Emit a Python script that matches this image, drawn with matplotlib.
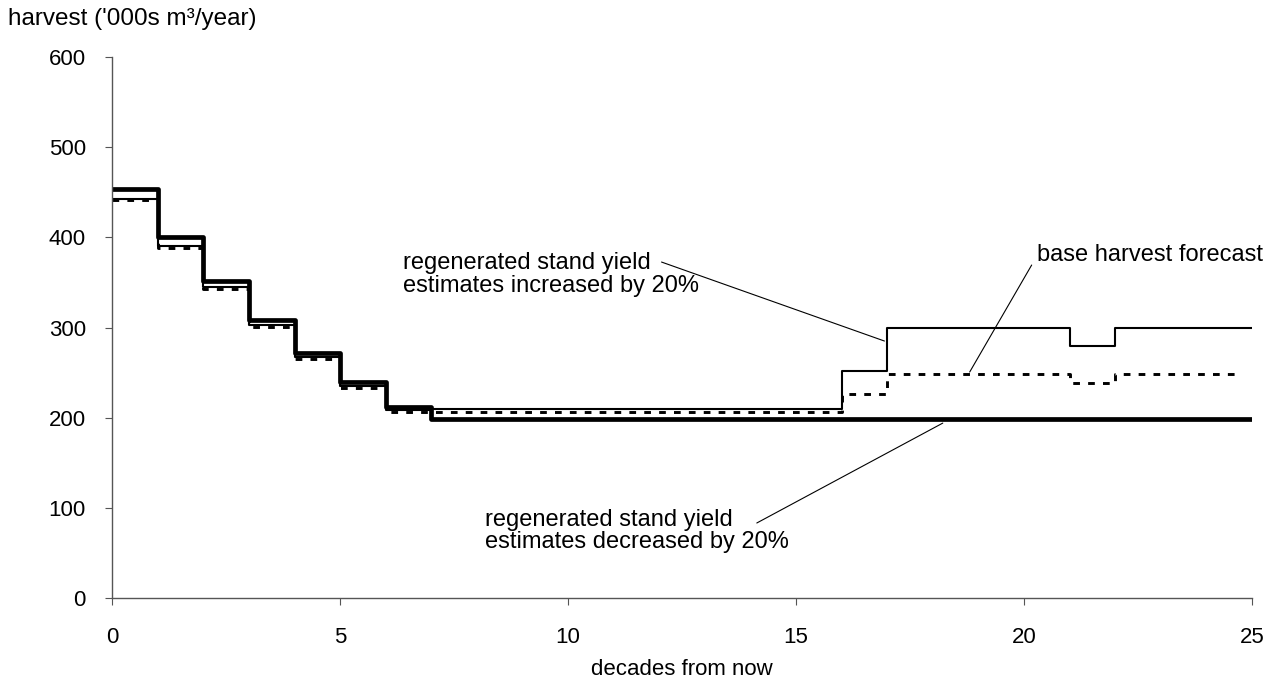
import matplotlib.pyplot as plt

plt.rcParams['font.family'] = ['Liberation Sans', 'DejaVu Sans']

# harvest per decade ('000s m3/year), decades 0..24
decades = list(range(26))
base = [441, 388, 343, 301, 265, 233, 206,
        206, 206, 206, 206, 206, 206, 206, 206, 206,
        226, 248, 248, 248, 248, 238, 248, 248, 248]
increased = [443, 390, 345, 303, 267, 235, 209,
             210, 210, 210, 210, 210, 210, 210, 210, 210,
             252, 300, 300, 300, 300, 279, 300, 300, 300]
decreased = [454, 400, 352, 308, 272, 240, 212,
             198, 198, 198, 198, 198, 198, 198, 198, 198,
             198, 198, 198, 198, 198, 198, 198, 198, 198]


def close(vals):
    # repeat last value so the final step reaches the right edge
    return vals + [vals[-1]]


fig = plt.figure(figsize=(12.8, 6.9), dpi=100)
ax = fig.add_axes([0.0877, 0.1333, 0.8903, 0.7841])

ax.step(decades[:-1] + [24.7], close(base)[:-1] + [base[-1]], where='post',
        color='black', lw=2.1, linestyle=(0, (2.3, 2.8)))
ax.step(decades, close(increased), where='post', color='black', lw=1.5)
ax.step(decades, close(decreased), where='post', color='black', lw=3.4)

ax.set_xlim(0, 25)
ax.set_ylim(0, 600)
ax.set_xticks([0, 5, 10, 15, 20, 25])
ax.set_yticks([0, 100, 200, 300, 400, 500, 600])

for side in ['top', 'right']:
    ax.spines[side].set_visible(False)
for side in ['left', 'bottom']:
    ax.spines[side].set_color('#555555')
    ax.spines[side].set_linewidth(1.0)
ax.tick_params(direction='out', length=5, color='#555555', labelsize=16)
ax.tick_params(axis='x', pad=16)
ax.tick_params(axis='y', pad=14)

ax.set_xlabel('decades from now', fontsize=16, labelpad=8)
fig.text(0.006, 0.972, "harvest ('000s m³/year)", fontsize=17.5, va='center', ha='left')

fs = 17
line = dict(arrowstyle='-', color='black', lw=0.8, shrinkA=0, shrinkB=0)
ax.annotate('', xy=(16.94, 285), xytext=(12.05, 372.6), arrowprops=line)
ax.text(6.37, 359, 'regenerated stand yield\nestimates increased by 20%',
        fontsize=fs, ha='left', va='center', linespacing=1.05)

ax.annotate('', xy=(18.81, 250.6), xytext=(20.17, 369.3), arrowprops=line)
ax.text(20.28, 380, 'base harvest forecast', fontsize=fs, ha='left', va='center')

ax.annotate('', xy=(18.22, 194), xytext=(14.14, 83.2), arrowprops=line)
ax.text(8.17, 74.3, 'regenerated stand yield\nestimates decreased by 20%',
        fontsize=fs, ha='left', va='center', linespacing=1.05)

fig.savefig('out.png', dpi=100)
